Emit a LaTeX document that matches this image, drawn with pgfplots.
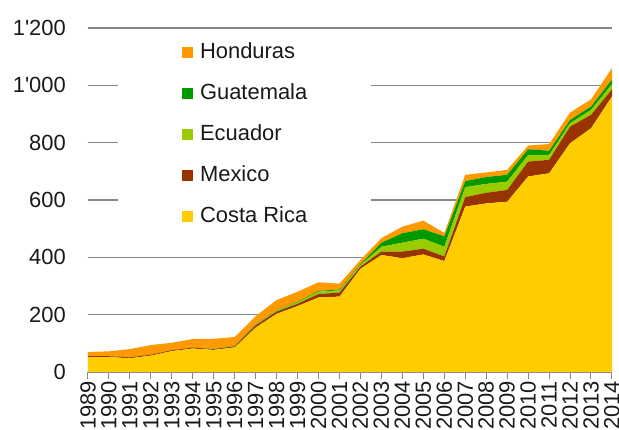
\documentclass[border=0pt]{standalone}
\usepackage{pgfplots}
\usepackage{pgfplotstable}
\pgfplotsset{compat=1.18}
\usepackage{fontspec}
\setmainfont{Liberation Sans}

\definecolor{crica}{HTML}{FFCC00}
\definecolor{mexi}{HTML}{993300}
\definecolor{ecua}{HTML}{99CC00}
\definecolor{guat}{HTML}{009900}
\definecolor{hond}{HTML}{FF9900}
\definecolor{gridgray}{HTML}{868686}

% stacked layers, bottom to top
\pgfplotstableread{
year cr  mx ec gt hn
1989 52  3  0  0  15
1990 52  3  0  0  17
1991 48  3  0  0  29
1992 57  3  0  0  34
1993 73  3  0  0  26
1994 82  3  0  0  30
1995 77  3  1  0  35
1996 86  4  2  0  30
1997 155 8  3  1  28
1998 203 8  4  1  35
1999 230 8  5  2  35
2000 260 12 8  3  30
2001 263 14 8  3  20
2002 360 8  5  3  15
2003 408 12 17 14 16
2004 397 23 31 33 23
2005 410 20 35 33 30
2006 387 16 34 36 12
2007 577 33 35 21 22
2008 588 37 31 24 16
2009 594 41 29 24 17
2010 682 52 23 20 13
2011 693 47 17 15 23
2012 798 58 12 11 26
2013 850 47 17 12 25
2014 961 25 18 16 40
}\bananas

\begin{document}
\begin{tikzpicture}
\begin{axis}[
    scale only axis, width=524bp, height=344bp,
    xmin=1989, xmax=2014, ymin=0, ymax=1200,
    stack plots=y,
    xtick={1989,...,2014},
    ytick={0,200,...,1200},
    /pgf/number format/assume math mode=true,
    tick label style={font=\fontsize{22}{26}\selectfont, text=black!90},
    x tick label style={/pgf/number format/1000 sep={}, rotate=90, anchor=east, inner sep=2bp},
    y tick label style={/pgf/number format/1000 sep={\textquotesingle}, inner sep=0pt, xshift=-15bp},
    axis x line*=bottom, axis y line*=left,
    y axis line style={draw=none},
    x axis line style={draw=gridgray, line width=1bp},
    ytick style={draw=none},
    xtick style={draw=gridgray, line width=1bp},
    tick align=outside, major tick length=7bp,
    ymajorgrids, grid style={draw=gridgray, line width=1.3bp},
    reverse legend,
    legend cell align=left,
    legend image code/.code={\fill[#1] (0bp,-5.5bp) rectangle (11bp,5.5bp);},
    legend style={at={(0.057,0.988)}, anchor=north west, fill=white, draw=none,
        inner xsep=64bp, inner ysep=10bp, row sep=21bp, column sep=7bp,
        font=\fontsize{22}{26}\selectfont, text=black!90,
        nodes={inner sep=0pt, text height=16bp, text depth=4bp}},
]
\addplot[fill=crica, draw=none] table[x=year, y=cr] {\bananas} \closedcycle;
\addplot[fill=mexi, draw=none] table[x=year, y=mx] {\bananas} \closedcycle;
\addplot[fill=ecua, draw=none] table[x=year, y=ec] {\bananas} \closedcycle;
\addplot[fill=guat, draw=none] table[x=year, y=gt] {\bananas} \closedcycle;
\addplot[fill=hond, draw=none] table[x=year, y=hn] {\bananas} \closedcycle;
\legend{Costa Rica, Mexico, Ecuador, Guatemala, Honduras}
\end{axis}
\pgfresetboundingbox
\useasboundingbox ([xshift=-88bp,yshift=-58bp]current axis.south west) rectangle ([xshift=7bp,yshift=28bp]current axis.north east);
\end{tikzpicture}
\end{document}
